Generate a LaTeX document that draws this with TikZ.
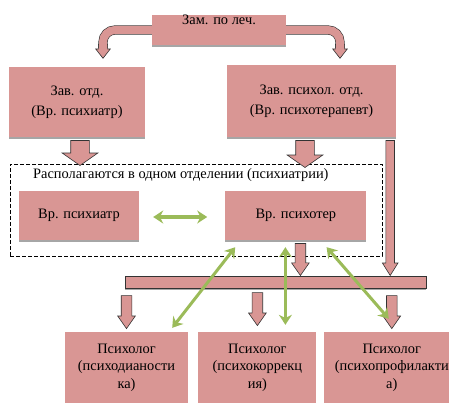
\documentclass[tikz,border=0pt]{standalone}
\usepackage{fontspec}
\setmainfont{Liberation Serif}
\usetikzlibrary{positioning,shapes.arrows,arrows.meta,shadows}

\definecolor{boxpink}{HTML}{D99694}
\definecolor{linkgreen}{HTML}{9BBB59}

\begin{document}
\begin{tikzpicture}[x=1pt, y=-1pt,
    every node/.style={font=\fontsize{14.4}{20}\selectfont},
    pinkbox/.style={fill=boxpink, align=center, inner sep=0pt,
        drop shadow={shadow xshift=0pt, shadow yshift=-2pt, fill=gray!70, opacity=1}},
    fatarrow/.style={single arrow, draw=black!80, fill=boxpink, line width=0.6pt,
        rotate=-90, anchor=tail, inner xsep=0pt, minimum width=0pt, single arrow head indent=0pt},
    bigarrow/.style={fatarrow, inner ysep=9pt, single arrow head extend=8.5pt, single arrow tip angle=110},
    midarrow/.style={fatarrow, inner ysep=5pt, single arrow head extend=3.5pt, single arrow tip angle=70},
    thinarrow/.style={fatarrow, inner ysep=4pt, single arrow head extend=3.5pt, single arrow tip angle=64},
    headarrow/.style={fatarrow, inner ysep=4.3pt, single arrow head extend=2.7pt, single arrow tip angle=76},
    bendline/.style={draw=black!80, double=boxpink, double distance=8pt, line width=0.6pt, rounded corners=12pt},
    greenlink/.style={{Stealth[length=10pt,width=13pt]}-{Stealth[length=10pt,width=13pt]}, draw=linkgreen, line width=3pt}
]
    \useasboundingbox (0,0) rectangle (449,403);

    % Boxes
    \node[pinkbox, minimum width=134, minimum height=30, text height=7pt, text depth=17pt] (zam) at (219,30) {Зам. по леч.};
    \node[pinkbox, minimum width=136, minimum height=70] (zav1) at (77,102) {Зав. отд.\\(Вр. психиатр)};
    \node[pinkbox, minimum width=169, minimum height=72] (zav2) at (311.5,101) {Зав. психол. отд.\\(Вр. психотерапевт)};

    \node[draw, dashed, dash pattern=on 4pt off 2pt, line width=0.8pt, minimum width=372, minimum height=92] (dept) at (196,210) {};
    \node[anchor=west] (deptlabel) at ([xshift=20pt,yshift=-11pt]dept.north west) {Располагаются в одном отделении (психиатрии)};
    \node[pinkbox, minimum width=120, minimum height=49] (vrpsy) at (79,215.5) {Вр. психиатр};
    \node[pinkbox, minimum width=141, minimum height=49, right=86pt of vrpsy] (vrpst) {Вр. психотер};

    \node[fill=boxpink, draw=black!80, line width=0.6pt, minimum width=301, minimum height=12, inner sep=0pt,
        drop shadow={shadow xshift=0pt, shadow yshift=-2pt, fill=gray!70, opacity=1}] (bar) at (275.5,282) {};

    \node[pinkbox, minimum width=123, minimum height=71, font=\fontsize{14.4}{17.5}\selectfont] (psy1) at (126.5,367.5) {Психолог\\(психодианости\\ка)};
    \node[pinkbox, minimum width=118, minimum height=71, font=\fontsize{14.4}{17.5}\selectfont, right=10pt of psy1] (psy2) {Психолог\\(психокоррекц\\ия)};
    \node[pinkbox, minimum width=136, minimum height=71, font=\fontsize{14.4}{17.5}\selectfont, right=7pt of psy2] (psy3) {Психолог\\(психопрофилакти\\а)};

    % Block arrows
    \node[headarrow, minimum height=14] (lhead) at (103,44) {};
    \node[headarrow, minimum height=14] (rhead) at (340,44) {};
    \draw[bendline] (zam.west) -| ([yshift=-4pt]lhead.tail);
    \draw[bendline] (zam.east) -| ([yshift=-4pt]rhead.tail);

    \node[bigarrow, minimum height=25] (a1) at ([xshift=3pt,yshift=-3pt]zav1.south) {};
    \node[bigarrow, minimum height=27] (a2) at ([xshift=-6.5pt,yshift=-3pt]zav2.south) {};
    \node[thinarrow, minimum height=135] (a3) at ([xshift=-6pt,yshift=-3pt]zav2.south east) {};
    \node[midarrow, minimum height=32] (a4) at ([xshift=4.5pt,yshift=-3pt]vrpst.south) {};

    \node[midarrow, minimum height=33] (b1) at ([yshift=-7pt]bar.south -| psy1.north) {};
    \node[midarrow, minimum height=33] (b2) at ([yshift=-4pt]bar.south -| psy2.north) {};
    \node[midarrow, minimum height=33] (b3) at ([yshift=-7pt]bar.south -| psy3.north) {};

    % Links
    \draw[greenlink] ([xshift=14pt,yshift=-1.5pt]vrpsy.east) -- ([xshift=-18pt,yshift=-1.5pt]vrpst.west);
    \draw[greenlink] ([xshift=10pt,yshift=-7pt]vrpst.south west) -- ([xshift=-16pt,yshift=4pt]psy1.north east);
    \draw[greenlink] ([xshift=-10.5pt,yshift=-7pt]vrpst.south) -- ([xshift=28pt,yshift=7pt]psy2.north);
    \draw[greenlink] ([xshift=-40pt,yshift=-7pt]vrpst.south east) -- ([xshift=-3pt,yshift=13pt]psy3.north);
\end{tikzpicture}
\end{document}
